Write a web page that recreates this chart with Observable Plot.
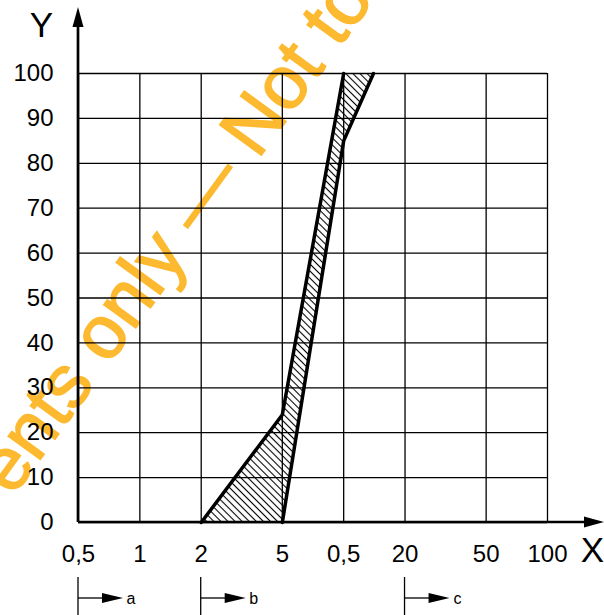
<!DOCTYPE html>
<html><head><meta charset="utf-8">
<script src="https://cdn.jsdelivr.net/npm/d3@7"></script>
<script src="https://cdn.jsdelivr.net/npm/@observablehq/plot@0.6"></script>
<style>body{margin:0;background:#fff}</style>
</head><body><div id="chart"></div>
<script>
const xTicks = [0.5, 1, 2, 5, 10, 20, 50, 100];
const xTickLabels = ["0,5", "1", "2", "5", "0,5", "20", "50", "100"];
const yTicks = [0, 10, 20, 30, 40, 50, 60, 70, 80, 90, 100];
const leftX = [2, 5, 10];
const leftY = [0, 24, 100];
const rightX = [5, 10, 14];
const rightY = [0, 85, 100];
const rangeStarts = [0.5, 2, 20];
const rangeLabels = ["a", "b", "c"];
const watermarkText = "ents only — Not to";

const leftLine = leftX.map((x, i) => ({x, y: leftY[i]}));
const rightLine = rightX.map((x, i) => ({x, y: rightY[i]}));
const polygon = leftLine.concat(rightLine.slice().reverse());

function background(index, scales, values, dims) {
  const g = d3.create("svg:g");
  const pat = g.append("defs").append("pattern")
    .attr("id", "hatch").attr("patternUnits", "userSpaceOnUse")
    .attr("width", 5).attr("height", 5)
    .attr("patternTransform", "rotate(45)");
  pat.append("line").attr("x1", 0).attr("y1", 2.5).attr("x2", 5).attr("y2", 2.5)
    .attr("stroke", "#000").attr("stroke-width", 1.1);
  g.append("text")
    .attr("transform", "translate(194,248) rotate(-54)")
    .attr("text-anchor", "middle")
    .attr("font-size", 75)
    .attr("font-family", "'Liberation Sans', Arial, sans-serif")
    .attr("fill", "#FDB92F")
    .attr("stroke", "#FDB92F")
    .attr("stroke-width", 1.5)
    .text(watermarkText);
  return g.node();
}

function decorations(index, scales, values, dims) {
  const {width, height} = dims;
  const x0 = scales.x(xTicks[0]);
  const y0 = scales.y(0);
  const g = d3.create("svg:g");
  g.append("line").attr("x1", x0).attr("y1", y0).attr("x2", width - 18).attr("y2", y0)
    .attr("stroke", "#000").attr("stroke-width", 2.7);
  g.append("path").attr("d", `M${width},${y0}L${width - 20},${y0 - 5.5}L${width - 20},${y0 + 5.5}Z`).attr("fill", "#000");
  g.append("line").attr("x1", x0).attr("y1", y0).attr("x2", x0).attr("y2", 26)
    .attr("stroke", "#000").attr("stroke-width", 2.7);
  g.append("path").attr("d", `M${x0},7L${x0 - 5.5},27L${x0 + 5.5},27Z`).attr("fill", "#000");
  rangeStarts.forEach((v, i) => {
    const px = scales.x(v);
    g.append("line").attr("x1", px).attr("y1", 577).attr("x2", px).attr("y2", height)
      .attr("stroke", "#000").attr("stroke-width", 1.3);
    g.append("line").attr("x1", px).attr("y1", 598).attr("x2", px + 26).attr("y2", 598)
      .attr("stroke", "#000").attr("stroke-width", 1.3);
    g.append("path").attr("d", `M${px + 45},598L${px + 24},${598 - 5}L${px + 24},${598 + 5}Z`).attr("fill", "#000");
    g.append("text").attr("x", px + 53).attr("y", 598).attr("dy", "0.35em")
      .attr("font-size", 16).attr("fill", "#000").text(rangeLabels[i]);
  });
  return g.node();
}

const chart = Plot.plot({
  width: 604,
  height: 615,
  marginLeft: 78,
  marginRight: 57,
  marginTop: 73,
  marginBottom: 93,
  style: {fontFamily: "'Liberation Sans', Arial, sans-serif", background: "#fff", overflow: "visible"},
  x: {type: "log", domain: [0.5, 100], axis: null},
  y: {domain: [0, 100], axis: null},
  marks: [
    background,
    Plot.ruleX(xTicks, {x: d => d, stroke: "#000", strokeWidth: 1.3}),
    Plot.ruleY(yTicks, {y: d => d, stroke: "#000", strokeWidth: 1.3}),
    Plot.line(polygon, {x: "x", y: "y", fill: "url(#hatch)", stroke: "none"}),
    Plot.line(leftLine, {x: "x", y: "y", stroke: "#000", strokeWidth: 3.5}),
    Plot.line(rightLine, {x: "x", y: "y", stroke: "#000", strokeWidth: 3.5}),
    Plot.text(xTicks, {x: d => d, text: (d, i) => xTickLabels[i], frameAnchor: "bottom", dy: 32, lineAnchor: "middle", textAnchor: "middle", fontSize: 24, fill: "#000"}),
    Plot.text(yTicks, {y: d => d, text: d => String(d), frameAnchor: "left", dx: -25, textAnchor: "end", lineAnchor: "middle", fontSize: 24, fill: "#000"}),
    Plot.text(["Y"], {frameAnchor: "top-left", dx: -37, dy: -48, textAnchor: "middle", lineAnchor: "middle", text: d => d, fontSize: 35, fill: "#000"}),
    Plot.text(["X"], {frameAnchor: "bottom-right", dx: 45, dy: 28, textAnchor: "middle", lineAnchor: "middle", text: d => d, fontSize: 35, fill: "#000"}),
    decorations
  ]
});
document.getElementById("chart").appendChild(chart);
</script>
</body></html>
